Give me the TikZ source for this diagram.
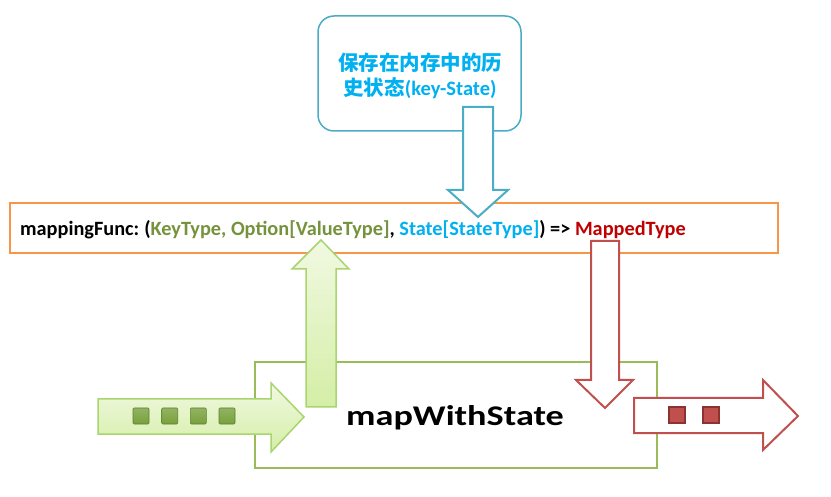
\documentclass[tikz,border=0pt]{standalone}
\usepackage{fontspec}
\setmainfont{Carlito}
\newfontfamily\widefont{Carlito}[FakeStretch=1.27]
\newfontfamily\cjk{Noto Sans CJK SC}
\usepackage{tikz}

\definecolor{funcorange}{HTML}{F79646}
\definecolor{boxgreen}{HTML}{9BBB59}
\definecolor{calloutblue}{HTML}{4BACC6}
\definecolor{stateblue}{HTML}{00B0F0}
\definecolor{keygreen}{HTML}{76923C}
\definecolor{mappedred}{HTML}{C00000}
\definecolor{arrowred}{HTML}{C0504D}
\definecolor{squarered}{HTML}{8C3230}
\definecolor{arrowgreen}{HTML}{A9D46E}
\definecolor{lightgreen}{HTML}{F1F9E2}
\definecolor{midgreen}{HTML}{D4EEA6}
\definecolor{squaregreen}{HTML}{77A03C}

\tikzset{
  greenarrow/.style={draw=arrowgreen, line width=1.5pt, top color=lightgreen, bottom color=midgreen},
  redarrow/.style={draw=arrowred, line width=2pt, fill=white},
  greensq/.style={draw=squaregreen!80!black, line width=0.6pt, top color=squaregreen!80, bottom color=squaregreen, minimum size=16pt, inner sep=0pt, rounded corners=1pt},
  redsq/.style={draw=squarered, line width=1.2pt, fill=arrowred, minimum size=16pt, inner sep=0pt}
}

\begin{document}
\begin{tikzpicture}[x=1pt,y=-1pt]

\useasboundingbox (0,0) rectangle (831,497);

% Callout box with the stored state
\draw [calloutblue, line width=1.5pt, rounded corners=16pt] (318,16) rectangle (521,131);
\node (callout) [text=stateblue, align=center, font=\fontsize{20.5}{25}\selectfont\bfseries] at (420,76)
  {{\cjk\bfseries 保存在内存中的历}\\{\cjk\bfseries 史状态}(key-State)};

% Function signature box
\draw [funcorange, line width=1.5pt] (10,203) rectangle (778,253);
\node (func) [anchor=base west, inner sep=0pt, font=\fontsize{20.3}{24}\selectfont\bfseries] at (20,236)
  {mappingFunc:\hspace{-1pt} (\textcolor{keygreen}{KeyType, Option[ValueType]}, \textcolor{stateblue}{State[StateType]}) => \textcolor{mappedred}{MappedType}};

% mapWithState box
\draw [boxgreen, line width=1.5pt] (255,362) rectangle (657,468);
\node (mws) [anchor=base, inner sep=0pt, font=\fontsize{28.5}{32}\widefont\bfseries] at (455,425) {mapWithState};

% State goes down into the function
\draw [calloutblue, line width=2pt, fill=white] (463,107) -- (493,107) -- (493,190) -- (508,190)
  -- (478,217) -- (448,190) -- (463,190) -- cycle;

% Input stream and key/value up to the function
\draw [greenarrow] (98,399) -- (271,399) -- (271,383) -- (304,417) -- (271,452) -- (271,434) -- (98,434) -- cycle;
\draw [greenarrow] (306,407) -- (336,407) -- (336,269) -- (349,269) -- (321,240) -- (292,269) -- (306,269) -- cycle;
\foreach \x [count=\i] in {141,169.7,198.3,227}
  \node (in\i) [greensq] at (\x,416) {};

% Mapped result and output stream
\draw [redarrow] (591,241) -- (619,241) -- (619,380) -- (633,380) -- (605,408) -- (576,380) -- (591,380) -- cycle;
\draw [redarrow] (634,398) -- (763,398) -- (763,380) -- (798,416) -- (763,450) -- (763,433) -- (634,433) -- cycle;
\foreach \x [count=\i] in {677,711}
  \node (out\i) [redsq] at (\x,415) {};

\end{tikzpicture}
\end{document}
